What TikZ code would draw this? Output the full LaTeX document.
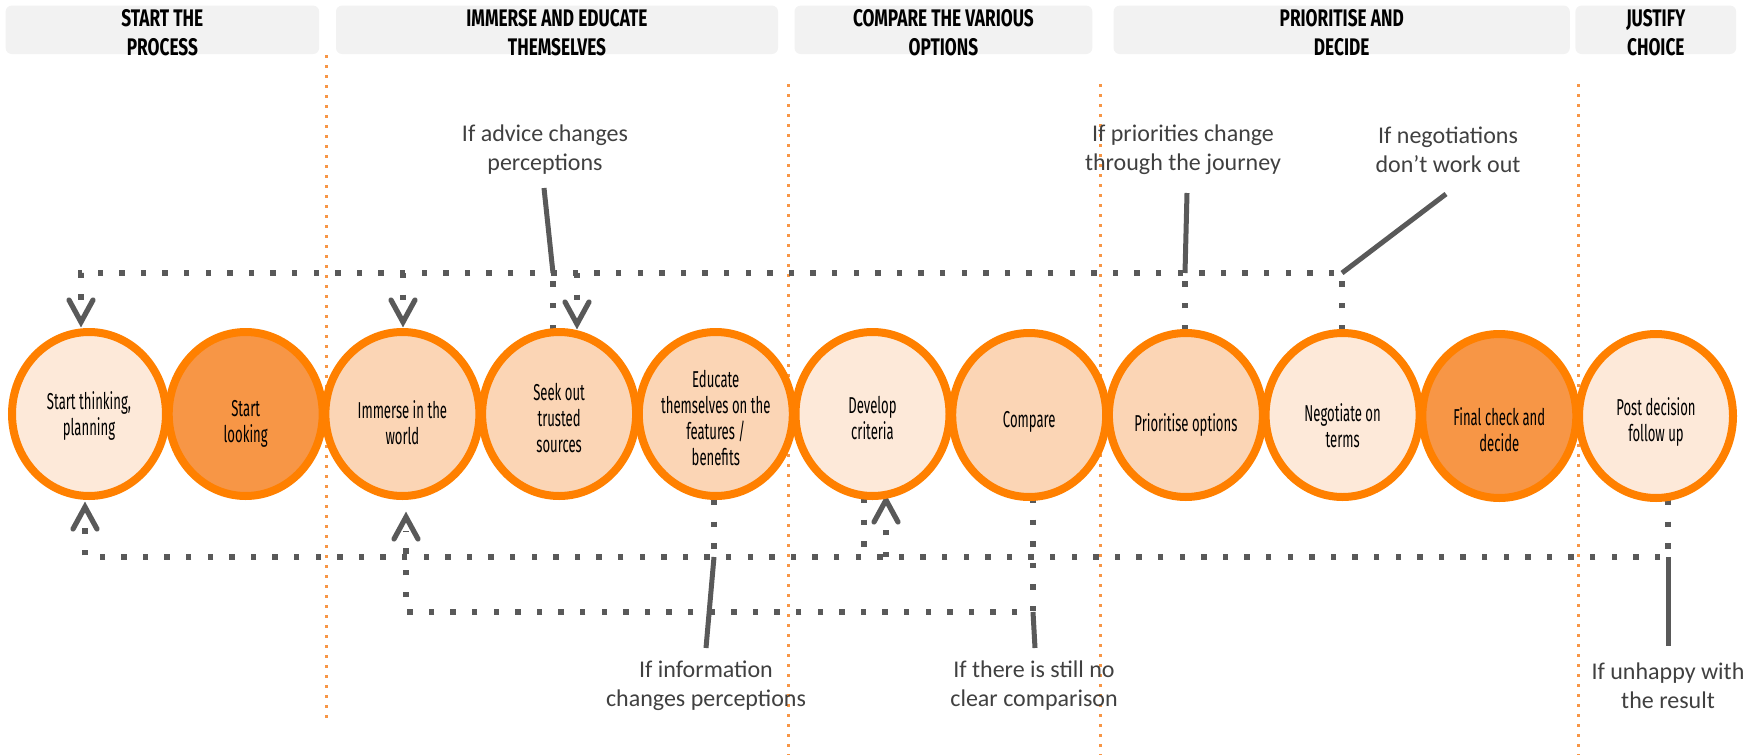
\documentclass[tikz,border=0pt]{standalone}
\usepackage{fontspec}
\setmainfont{Carlito}
\newfontfamily\circfont[FakeStretch=0.57]{Fira Sans}
\newfontfamily\hdrfont[FakeStretch=0.72]{Fira Sans}
\usetikzlibrary{shapes.geometric,calc}
\definecolor{ringorange}{HTML}{FF8000}
\definecolor{fillA}{HTML}{FDE9D9}
\definecolor{fillB}{HTML}{FBD5B5}
\definecolor{fillC}{HTML}{F79646}
\definecolor{sepc}{HTML}{F79646}
\definecolor{hdrgray}{HTML}{F2F2F2}
\definecolor{linegray}{HTML}{595959}
\definecolor{txtgray}{HTML}{404040}
\tikzset{
  stage/.style={ellipse, draw=ringorange, line width=4pt, minimum width=77pt,
    minimum height=82pt, inner sep=0pt},
  stagetext/.style={align=center, text=black, inner sep=0pt,
    font=\circfont\fontsize{11.5}{13}\selectfont},
  hdrbox/.style={fill=hdrgray, rounded corners=3pt, inner sep=0pt,
    minimum height=24.2pt},
  hdrtext/.style={align=center, text=black, inner sep=0pt,
    font=\hdrfont\bfseries\fontsize{12}{14.2}\selectfont},
  note/.style={align=center, text=txtgray, inner sep=0pt,
    font=\fontsize{12}{14.5}\selectfont},
  sepline/.style={draw=sepc, line width=1.5pt, dash pattern=on 1.3pt off 3.7pt},
  dots/.style={draw=linegray, line width=2.7pt, dash pattern=on 2.7pt off 8.1pt},
  callout/.style={draw=linegray, line width=2.5pt},
  vhead/.style={draw=linegray, line width=2.6pt, line cap=round, line join=miter}
}
\begin{document}
\begin{tikzpicture}[x=0.5pt,y=-0.5pt]
\useasboundingbox (0,0) rectangle (1762,755);

% separators
\coordinate (s1t) at (326,55);   \coordinate (s1b) at (326,720);
\coordinate (s2t) at (788,84);   \coordinate (s2b) at (788,755);
\coordinate (s3t) at (1100,84);  \coordinate (s3b) at (1100,755);
\coordinate (s4t) at (1578,84);  \coordinate (s4b) at (1578,755);
\draw[sepline] (s1t) -- (s1b);
\draw[sepline] (s2t) -- (s2b);
\draw[sepline] (s3t) -- (s3b);
\draw[sepline] (s4t) -- (s4b);

% headers
\node[hdrbox, minimum width=156.75pt] (h1) at (162.4,29.8) {};
\node[hdrbox, minimum width=221pt] (h2) at (557,29.8) {};
\node[hdrbox, minimum width=148.9pt] (h3) at (943.4,29.8) {};
\node[hdrbox, minimum width=228.1pt] (h4) at (1341.7,29.8) {};
\node[hdrbox, minimum width=80.35pt] (h5) at (1655.8,29.8) {};
\node[hdrtext] (h1t) at ($(h1)+(0,3)$) {START THE\\PROCESS};
\node[hdrtext] (h2t) at ($(h2)+(0,3)$) {IMMERSE AND EDUCATE\\THEMSELVES};
\node[hdrtext] (h3t) at ($(h3)+(0,3)$) {COMPARE THE VARIOUS\\OPTIONS};
\node[hdrtext] (h4t) at ($(h4)+(0,3)$) {PRIORITISE AND\\DECIDE};
\node[hdrtext] (h5t) at ($(h5)+(0,3)$) {JUSTIFY\\CHOICE};

% top feedback network
\coordinate (n9) at (1342,330);
\coordinate (n8) at (1185,330);
\coordinate (n4) at (553,330);
\coordinate (tl) at (81,273);
\coordinate (j9) at (1342,273);
\coordinate (j8) at (1185,273);
\coordinate (j4) at (553,273);
\coordinate (j3) at (403,273);
\coordinate (j4b) at (577,273);
\coordinate (a1) at (81,322);
\coordinate (a3) at (403,322);
\coordinate (a4) at (577,324);
\draw[dots] (n9) -- (j9) -- (tl) -- ($(a1)+(0,-14)$);
\draw[dots] (n8) -- (j8);
\draw[dots] (n4) -- (j4);
\draw[dots] (j3) -- ($(a3)+(0,-14)$);
\draw[dots] (j4b) -- ($(a4)+(0,-14)$);
\draw[vhead] ($(a1)+(-12,-22)$) -- (a1) -- ($(a1)+(12,-22)$);
\draw[vhead] ($(a3)+(-12,-22)$) -- (a3) -- ($(a3)+(12,-22)$);
\draw[vhead] ($(a4)+(-12,-22)$) -- (a4) -- ($(a4)+(12,-22)$);

% bottom feedback network
\coordinate (b1) at (85,507);
\coordinate (bl) at (85,557);
\coordinate (br) at (1668,557);
\coordinate (m11) at (1668,500);
\coordinate (m5) at (714,500);
\coordinate (k5) at (714,557);
\coordinate (m6) at (864,498);
\coordinate (k6) at (864,557);
\coordinate (b6) at (886,500);
\coordinate (k6b) at (886,557);
\coordinate (b3) at (406,517);
\coordinate (ll) at (406,612);
\coordinate (m7) at (1033,498);
\coordinate (k7) at (1033,612);
\draw[dots] (m11) -- (br) -- (bl) -- ($(b1)+(0,14)$);
\draw[dots] (m5) -- (k5);
\draw[dots] (m6) -- (k6);
\draw[dots] (k6b) -- ($(b6)+(0,14)$);
\draw[dots] (m7) -- (k7) -- (ll) -- ($(b3)+(0,14)$);
\draw[vhead] ($(b1)+(-12,22)$) -- (b1) -- ($(b1)+(12,22)$);
\draw[vhead] ($(b3)+(-12,22)$) -- (b3) -- ($(b3)+(12,22)$);
\draw[vhead] ($(b6)+(-12,22)$) -- (b6) -- ($(b6)+(12,22)$);

% stages
\node[stage, fill=fillA] (c1) at (89,414) {};
\node[stage, fill=fillC] (c2) at (245.7,414) {};
\node[stage, fill=fillB] (c3) at (402.4,414) {};
\node[stage, fill=fillB] (c4) at (559.1,414) {};
\node[stage, fill=fillB] (c5) at (715.8,414) {};
\node[stage, fill=fillA] (c6) at (872.5,414) {};
\node[stage, fill=fillB] (c7) at (1029.2,415) {};
\node[stage, fill=fillB] (c8) at (1185.9,415) {};
\node[stage, fill=fillA] (c9) at (1342.6,415) {};
\node[stage, fill=fillC] (c10) at (1499.3,416) {};
\node[stage, fill=fillA] (c11) at (1656,416) {};
\node[stagetext] (t1) at ($(c1)+(0,2)$) {Start thinking,\\planning};
\node[stagetext] (t2) at ($(c2)+(0,10)$) {Start\\looking};
\node[stagetext] (t3) at ($(c3)+(0,9)$) {Immerse in the\\world};
\node[stagetext] (t4) at ($(c4)+(0,4)$) {Seek out\\trusted\\sources};
\node[stagetext] (t5) at ($(c5)+(0,4)$) {Educate\\themselves on the\\features /\\benefits};
\node[stagetext] (t6) at ($(c6)+(0,4)$) {Develop\\criteria};
\node[stagetext] (t7) at ($(c7)+(0,7)$) {Compare};
\node[stagetext] (t8) at ($(c8)+(0,10)$) {Prioritise options};
\node[stagetext] (t9) at ($(c9)+(0,11)$) {Negotiate on\\terms};
\node[stagetext] (t10) at ($(c10)+(0,14)$) {Final check and\\decide};
\node[stagetext] (t11) at ($(c11)+(0,6)$) {Post decision\\follow up};

% annotations
\node[note] (q1) at (545,150) {If advice changes\\perceptions};
\node[note] (q2) at (1183,150) {If priorities change\\through the journey};
\node[note] (q3) at (1448,150) {If negotiations\\don’t work out};
\node[note] (q4) at (706,686) {If information\\changes perceptions};
\node[note] (q5) at (1034,686) {If there is still no\\clear comparison};
\node[note] (q6) at (1668,686) {If unhappy with\\the result};
\coordinate (q1e) at (544,188);
\coordinate (q2e) at (1187,193);
\coordinate (q3e) at (1446,194);
\coordinate (q4e) at (706,648);
\coordinate (q5e) at (1035,648);
\coordinate (q6e) at (1668,646);
\draw[callout] (j4) -- (q1e);
\draw[callout] (j8) -- (q2e);
\draw[callout] (j9) -- (q3e);
\draw[callout] (k5) -- (q4e);
\draw[callout] (k7) -- (q5e);
\draw[callout] (br) -- (q6e);
\end{tikzpicture}
\end{document}
